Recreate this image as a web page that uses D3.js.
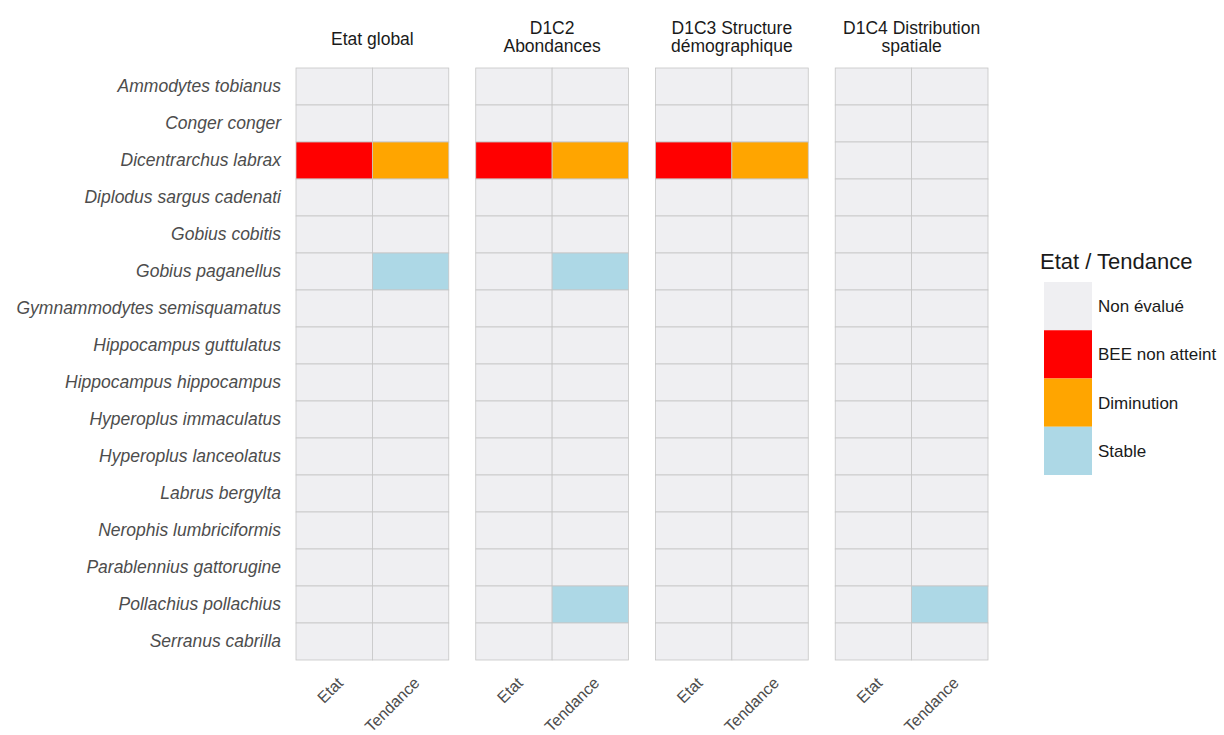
<!DOCTYPE html>
<html>
<head>
<meta charset="utf-8">
<script src="https://cdn.jsdelivr.net/npm/d3@7"></script>
<style>
  body { margin: 0; background: #fff; }
  text { font-family: "Liberation Sans", Arial, sans-serif; }
</style>
</head>
<body>
<div id="chart"></div>
<script>
var especes = ["Ammodytes tobianus", "Conger conger", "Dicentrarchus labrax", "Diplodus sargus cadenati",
  "Gobius cobitis", "Gobius paganellus", "Gymnammodytes semisquamatus", "Hippocampus guttulatus",
  "Hippocampus hippocampus", "Hyperoplus immaculatus", "Hyperoplus lanceolatus", "Labrus bergylta",
  "Nerophis lumbriciformis", "Parablennius gattorugine", "Pollachius pollachius", "Serranus cabrilla"];
var criteres = [["Etat global"], ["D1C2", "Abondances"], ["D1C3 Structure", "démographique"], ["D1C4 Distribution", "spatiale"]];
var colonnes = ["Etat", "Tendance"];
var categories = ["Non évalué", "BEE non atteint", "Diminution", "Stable"];
var couleurs = ["#efeff2", "#ff0000", "#ffa500", "#add8e6"];

// evaluations non par defaut : [critere, espece, colonne, categorie]
var evaluations = [
  [0, "Dicentrarchus labrax", "Etat", "BEE non atteint"],
  [0, "Dicentrarchus labrax", "Tendance", "Diminution"],
  [0, "Gobius paganellus", "Tendance", "Stable"],
  [1, "Dicentrarchus labrax", "Etat", "BEE non atteint"],
  [1, "Dicentrarchus labrax", "Tendance", "Diminution"],
  [1, "Gobius paganellus", "Tendance", "Stable"],
  [1, "Pollachius pollachius", "Tendance", "Stable"],
  [2, "Dicentrarchus labrax", "Etat", "BEE non atteint"],
  [2, "Dicentrarchus labrax", "Tendance", "Diminution"],
  [3, "Pollachius pollachius", "Tendance", "Stable"]
];

var W = 1224, H = 735;
var svg = d3.select("#chart").append("svg").attr("width", W).attr("height", H);

var couleur = d3.scaleOrdinal().domain(categories).range(couleurs);
var y = d3.scaleBand().domain(especes).range([68, 660]);
var panelX = d3.scaleBand().domain(d3.range(criteres.length)).range([296, 988]).paddingInner(0.15);

var cells = [];
criteres.forEach(function(c, i) {
  especes.forEach(function(e) {
    colonnes.forEach(function(col) {
      var cat = "Non évalué";
      evaluations.forEach(function(ev) {
        if (ev[0] === i && ev[1] === e && ev[2] === col) cat = ev[3];
      });
      cells.push({ p: i, e: e, col: col, cat: cat });
    });
  });
});

criteres.forEach(function(c, i) {
  var x = d3.scaleBand().domain(colonnes).range([panelX(i), panelX(i) + panelX.bandwidth()]);
  var g = svg.append("g");
  g.selectAll("rect")
    .data(cells.filter(function(d) { return d.p === i; }))
    .enter().append("rect")
    .attr("x", function(d) { return x(d.col); })
    .attr("y", function(d) { return y(d.e); })
    .attr("width", x.bandwidth())
    .attr("height", y.bandwidth())
    .attr("fill", function(d) { return couleur(d.cat); })
    .attr("stroke", "#c6c6c6")
    .attr("stroke-width", 0.8);

  // titre de facette
  var cx = panelX(i) + panelX.bandwidth() / 2;
  var t = svg.append("text").attr("text-anchor", "middle").attr("font-size", 17.5).attr("fill", "#1a1a1a");
  var y0 = c.length === 1 ? 44.5 : 34;
  c.forEach(function(l, k) {
    t.append("tspan").attr("x", cx).attr("y", y0 + k * 18).text(l);
  });

  // axe x
  var ax = svg.append("g").attr("transform", "translate(0,660)")
    .call(d3.axisBottom(x).tickSize(0).tickPadding(0));
  ax.select(".domain").remove();
  ax.selectAll("text")
    .attr("font-size", 16).attr("fill", "#4d4d4d")
    .attr("text-anchor", "end")
    .attr("dy", 0)
    .attr("transform", "translate(10,24) rotate(-45)");
});

// axe y
var ay = svg.append("g").attr("transform", "translate(281,0)")
  .call(d3.axisLeft(y).tickSize(0).tickPadding(0));
ay.select(".domain").remove();
ay.selectAll("text").attr("font-size", 17.5).attr("font-style", "italic").attr("fill", "#4d4d4d");

// legende
var leg = svg.append("g");
leg.append("text").attr("x", 1040).attr("y", 269).attr("font-size", 22).attr("fill", "#1a1a1a").text("Etat / Tendance");
var ly = d3.scaleBand().domain(categories).range([282, 475]);
leg.selectAll("rect").data(categories).enter().append("rect")
  .attr("x", 1044).attr("y", function(d) { return ly(d); })
  .attr("width", 48).attr("height", ly.bandwidth())
  .attr("fill", function(d) { return couleur(d); });
leg.selectAll("text.l").data(categories).enter().append("text")
  .attr("class", "l")
  .attr("x", 1098).attr("y", function(d) { return ly(d) + ly.bandwidth() / 2 + 6; })
  .attr("font-size", 17).attr("fill", "#1a1a1a")
  .text(function(d) { return d; });
</script>
</body>
</html>
